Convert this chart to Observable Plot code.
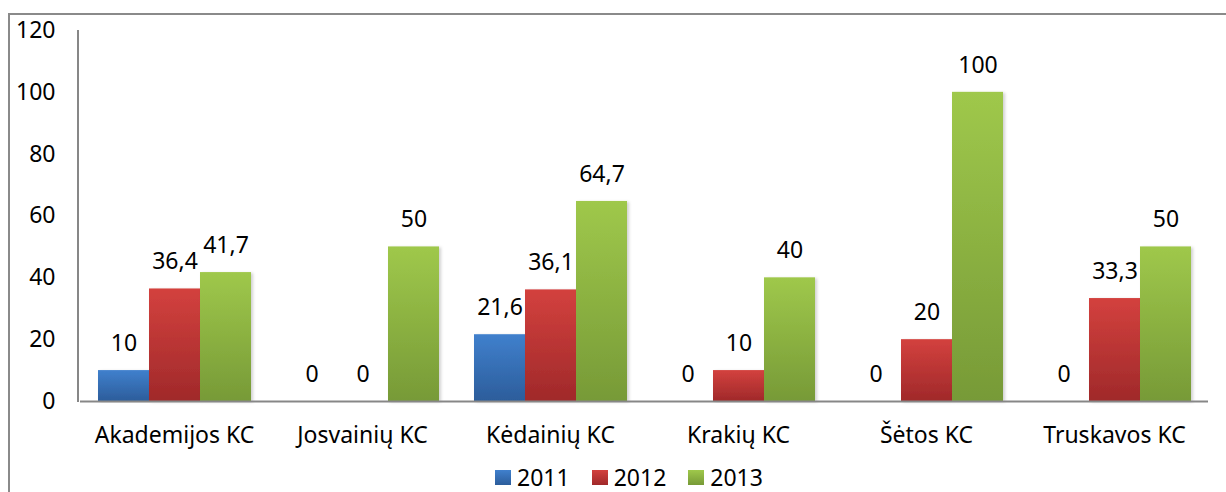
<!DOCTYPE html>
<html>
<head>
<meta charset="utf-8">
<script src="https://cdn.jsdelivr.net/npm/d3@7"></script>
<script src="https://cdn.jsdelivr.net/npm/@observablehq/plot@0.6"></script>
<style>
  html, body { margin: 0; padding: 0; background: #fff; width: 1226px; height: 492px; overflow: hidden; }
  body { font-family: "Noto Sans", sans-serif; position: relative; }
  #frame { position: absolute; left: 8px; top: 13px; width: 1240px; height: 520px; border: 2px solid #8a8a8a; box-sizing: border-box; pointer-events: none; }
  #chart { position: absolute; left: 0; top: 0; }
  #legend { position: absolute; left: 16px; top: 465px; width: 1226px; display: flex; justify-content: center; font-size: 23px; line-height: 24px; color: #000; }
  .item { display: flex; align-items: center; margin: 0 11px; }
  .sw { width: 16px; height: 15px; margin-right: 6px; display: inline-block; }
</style>
</head>
<body>
<div id="chart"></div>
<div id="legend"></div>
<div id="frame"></div>
<script>
const categories = ["Akademijos KC", "Josvainių KC", "Kėdainių KC", "Krakių KC", "Šėtos KC", "Truskavos KC"];
const years = ["2011", "2012", "2013"];
const values2011 = [10, 0, 21.6, 0, 0, 0];
const values2012 = [36.4, 0, 36.1, 10, 20, 33.3];
const values2013 = [41.7, 50, 64.7, 40, 100, 50];
const labels2011 = ["10", "0", "21,6", "0", "0", "0"];
const labels2012 = ["36,4", "0", "36,1", "10", "20", "33,3"];
const labels2013 = ["41,7", "50", "64,7", "40", "100", "50"];
const yTicks = [0, 20, 40, 60, 80, 100, 120];

const gradients = {
  "2011": ["#4080cd", "#2c5d9b"],
  "2012": ["#d3413e", "#a0292a"],
  "2013": ["#9fc84b", "#779a37"]
};

const seriesVals = [values2011, values2012, values2013];
const seriesLabels = [labels2011, labels2012, labels2013];
const data = [];
categories.forEach((c, i) => {
  years.forEach((y, j) => {
    data.push({ cat: c, year: y, value: seriesVals[j][i], label: seriesLabels[j][i] });
  });
});

const plot = Plot.plot({
  width: 1226,
  height: 462,
  marginLeft: 78,
  marginRight: 16,
  marginTop: 30,
  marginBottom: 61,
  style: { fontFamily: "Noto Sans, sans-serif", fontSize: "23px", color: "#000", background: "transparent", overflow: "visible" },
  fx: { domain: categories, paddingInner: 0, paddingOuter: 0, label: null, tickSize: 0, tickPadding: 25, axis: "bottom" },
  x: { domain: years, paddingInner: 0, paddingOuter: 0.34, axis: null },
  y: { domain: [0, 120], ticks: yTicks, label: null, tickSize: 0, tickPadding: 25, tickFormat: d => String(d) },
  color: { domain: years, range: years.map(y => `url(#grad${y})`) },
  marks: [
    Plot.barY(data, { fx: "cat", x: "year", y: "value", fill: "year", filter: d => d.value > 0 }),
    Plot.text(data, { fx: "cat", x: "year", y: "value", text: "label", dy: -27, lineAnchor: "middle", fill: "#000", fontSize: 23 }),
    Plot.ruleY([0], { stroke: "#878787", strokeWidth: 2 })
  ]
});
document.getElementById("chart").appendChild(plot);

const ns = "http://www.w3.org/2000/svg";
const defs = document.createElementNS(ns, "defs");
years.forEach(y => {
  const g = document.createElementNS(ns, "linearGradient");
  g.setAttribute("id", "grad" + y);
  g.setAttribute("x1", "0"); g.setAttribute("y1", "0"); g.setAttribute("x2", "0"); g.setAttribute("y2", "1");
  [[0, gradients[y][0]], [1, gradients[y][1]]].forEach(([o, c]) => {
    const s = document.createElementNS(ns, "stop");
    s.setAttribute("offset", o); s.setAttribute("stop-color", c);
    g.appendChild(s);
  });
  defs.appendChild(g);
});
const f = document.createElementNS(ns, "filter");
f.setAttribute("id", "shadow"); f.setAttribute("x", "-20%"); f.setAttribute("y", "-5%"); f.setAttribute("width", "140%"); f.setAttribute("height", "110%");
const ds = document.createElementNS(ns, "feDropShadow");
ds.setAttribute("dx", "2"); ds.setAttribute("dy", "1"); ds.setAttribute("stdDeviation", "1.5"); ds.setAttribute("flood-color", "#000"); ds.setAttribute("flood-opacity", "0.18");
f.appendChild(ds); defs.appendChild(f);
plot.insertBefore(defs, plot.firstChild);
plot.querySelectorAll('g[aria-label="bar"] rect').forEach(r => r.setAttribute("filter", "url(#shadow)"));

const ys = plot.scale("y");
const line = document.createElementNS(ns, "line");
line.setAttribute("x1", 78); line.setAttribute("x2", 78);
line.setAttribute("y1", ys.apply(120)); line.setAttribute("y2", ys.apply(0) + 1);
line.setAttribute("stroke", "#878787"); line.setAttribute("stroke-width", 2);
plot.appendChild(line);

const leg = document.getElementById("legend");
years.forEach(y => {
  const it = document.createElement("div"); it.className = "item";
  const sw = document.createElement("span"); sw.className = "sw";
  sw.style.background = `linear-gradient(${gradients[y][0]}, ${gradients[y][1]})`;
  const t = document.createElement("span"); t.textContent = y;
  it.appendChild(sw); it.appendChild(t); leg.appendChild(it);
});
</script>
</body>
</html>
